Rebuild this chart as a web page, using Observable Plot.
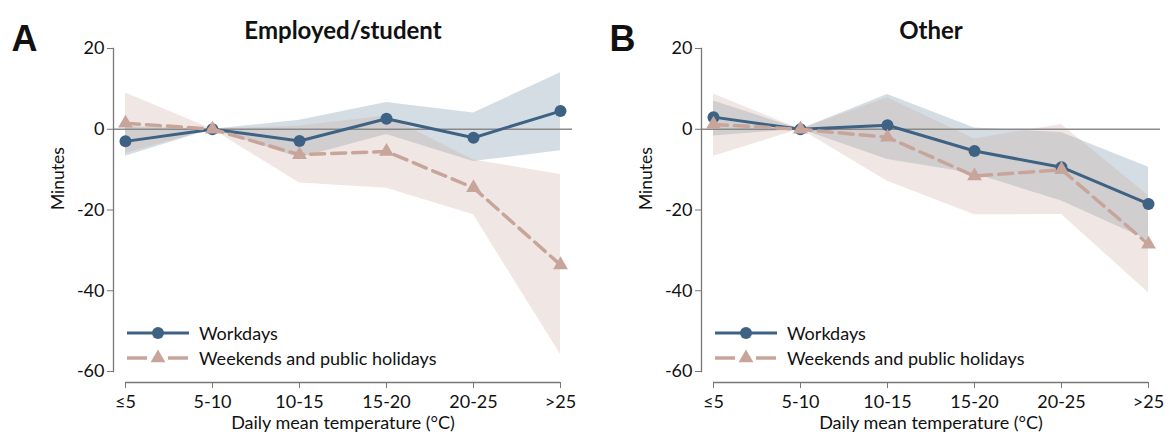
<!DOCTYPE html>
<html>
<head>
<meta charset="utf-8">
<script src="https://cdn.jsdelivr.net/npm/d3@7"></script>
<script src="https://cdn.jsdelivr.net/npm/@observablehq/plot@0.6"></script>
<style>
  html, body { margin: 0; padding: 0; background: #fff; }
  #wrap { position: relative; width: 1176px; height: 437px; font-family: Lato, "Open Sans", sans-serif; }
  .panel { position: absolute; top: 0; width: 588px; height: 437px; }
  .legend { position: absolute; font-family: Lato, sans-serif; font-size: 18px; color: #111; }
  .legend .item { display: flex; align-items: center; height: 25px; }
  .legend svg { margin-right: 10px; }
</style>
</head>
<body>
<div id="wrap"></div>
<script>
// ---- data ----
const categories = ["≤5", "5-10", "10-15", "15-20", "20-25", ">25"];
const yTicks = [-60, -40, -20, 0, 20];
const seriesNames = ["Workdays", "Weekends and public holidays"];
const panelTitles = ["Employed/student", "Other"];
const panelLetters = ["A", "B"];
const xLabel = "Daily mean temperature (°C)";
const yLabel = "Minutes";

// Panel A: Employed/student
const aWork   = [-3.0, 0, -2.9,  2.6,  -2.1,   4.5];
const aWorkLo = [-6.7, 0, -7.1, -1.3,  -8.0,  -5.3];
const aWorkHi = [ 0.7, 0,  2.2,  6.6,   4.0,  14.0];
const aWknd   = [ 1.5, 0, -6.3,  -5.5, -14.5, -33.6];
const aWkndLo = [-6.0, 0, -13.3, -14.6, -21.2, -55.8];
const aWkndHi = [ 9.0, 0,  0.8,   3.3,  -7.6, -11.2];

// Panel B: Other
const bWork   = [ 3.0, 0,  1.0,  -5.4,  -9.4, -18.5];
const bWorkLo = [-1.7, 0, -7.5, -11.0, -17.8, -27.5];
const bWorkHi = [ 7.0, 0,  8.6,   0.3,  -0.8,  -9.4];
const bWknd   = [ 1.2, 0, -2.0, -11.6, -10.0, -28.5];
const bWkndLo = [-6.7, 0, -12.9, -21.2, -21.1, -40.5];
const bWkndHi = [ 8.7, 0,  7.8,  -2.4,   1.2, -16.5];

// ---- styles ----
const BLUE = "#3e6283";
const PINK = "#c8a59b";
const AXIS = "#777";

function makePanel(idx, work, workLo, workHi, wknd, wkndLo, wkndHi, letterDx) {
  const rows = categories.map((c, i) => ({
    cat: c, work: work[i], workLo: workLo[i], workHi: workHi[i],
    wknd: wknd[i], wkndLo: wkndLo[i], wkndHi: wkndHi[i]
  }));
  return Plot.plot({
    width: 588, height: 437,
    marginLeft: 113, marginRight: 16, marginTop: 48, marginBottom: 66,
    style: { fontFamily: "Lato, sans-serif", background: "white", color: "#111" },
    x: { type: "point", domain: categories, padding: 0, insetLeft: 11, insetRight: 11 },
    y: { domain: [-60, 20] },
    marks: [
      Plot.areaY(rows, { x: "cat", y1: "workLo", y2: "workHi", fill: BLUE, fillOpacity: 0.22 }),
      Plot.areaY(rows, { x: "cat", y1: "wkndLo", y2: "wkndHi", fill: PINK, fillOpacity: 0.27 }),
      Plot.ruleY([0], { stroke: "#8a8a8a", strokeWidth: 1.3 }),
      Plot.frame({ anchor: "left", stroke: AXIS, strokeWidth: 1.3 }),
      Plot.ruleY([-60], { x1: () => categories[0], x2: () => categories[categories.length - 1], dy: 11, stroke: AXIS, strokeWidth: 1.3 }),
      Plot.axisY(yTicks, { tickSize: 6, tickPadding: 3, fontSize: 18, label: null, stroke: AXIS, fill: "#111", tickFormat: d => String(d) }),
      Plot.axisX({ tickSize: 6, tickPadding: 7, dy: 11, fontSize: 18, label: null, stroke: AXIS, fill: "#111" }),
      Plot.text([xLabel], { frameAnchor: "bottom", lineAnchor: "middle", dy: 52, fontSize: 18, fill: "#111" }),
      Plot.text([yLabel], { frameAnchor: "left", dx: -55, rotate: -90, fontSize: 17.5, fill: "#111" }),
      Plot.line(rows, { x: "cat", y: "work", stroke: BLUE, strokeWidth: 3 }),
      Plot.dot(rows, { x: "cat", y: "work", fill: BLUE, r: 6 }),
      Plot.line(rows, { x: "cat", y: "wknd", stroke: PINK, strokeWidth: 3.5, strokeDasharray: "14,7" }),
      Plot.dot(rows, { x: "cat", y: "wknd", fill: PINK, symbol: "triangle", r: 5.5 }),
      Plot.text([panelTitles[idx]], { frameAnchor: "top", dy: -27, fontSize: 24, fontWeight: "bold", fill: "#111" }),
      Plot.text([panelLetters[idx]], { frameAnchor: "top-left", textAnchor: "start", dx: letterDx, dy: -23, fontSize: 36, fontWeight: "bold", fontFamily: "Liberation Sans, Arial, sans-serif", fill: "#111" })
    ]
  });
}

function makeLegend() {
  const div = document.createElement("div");
  div.className = "legend";
  const markers = [
    `<svg width="62" height="20"><line x1="0" x2="62" y1="10" y2="10" stroke="${BLUE}" stroke-width="3"/><circle cx="31" cy="10" r="6" fill="${BLUE}"/></svg>`,
    `<svg width="62" height="20"><line x1="0" x2="62" y1="10" y2="10" stroke="${PINK}" stroke-width="3.5" stroke-dasharray="20,21"/><path d="${d3.symbol(d3.symbolTriangle, 95)()}" transform="translate(31,10)" fill="${PINK}"/></svg>`
  ];
  seriesNames.forEach((name, i) => {
    const it = document.createElement("div");
    it.className = "item";
    it.innerHTML = markers[i] + `<span>${name}</span>`;
    div.appendChild(it);
  });
  return div;
}

const wrap = document.getElementById("wrap");
const panels = [
  makePanel(0, aWork, aWorkLo, aWorkHi, aWknd, aWkndLo, aWkndHi, -102),
  makePanel(1, bWork, bWorkLo, bWorkHi, bWknd, bWkndLo, bWkndHi, -92)
];
panels.forEach((svg, i) => {
  const p = document.createElement("div");
  p.className = "panel";
  p.style.left = (i * 588) + "px";
  p.appendChild(svg);
  const lg = makeLegend();
  lg.style.left = "127px";
  lg.style.top = "320px";
  p.appendChild(lg);
  wrap.appendChild(p);
});
</script>
</body>
</html>
